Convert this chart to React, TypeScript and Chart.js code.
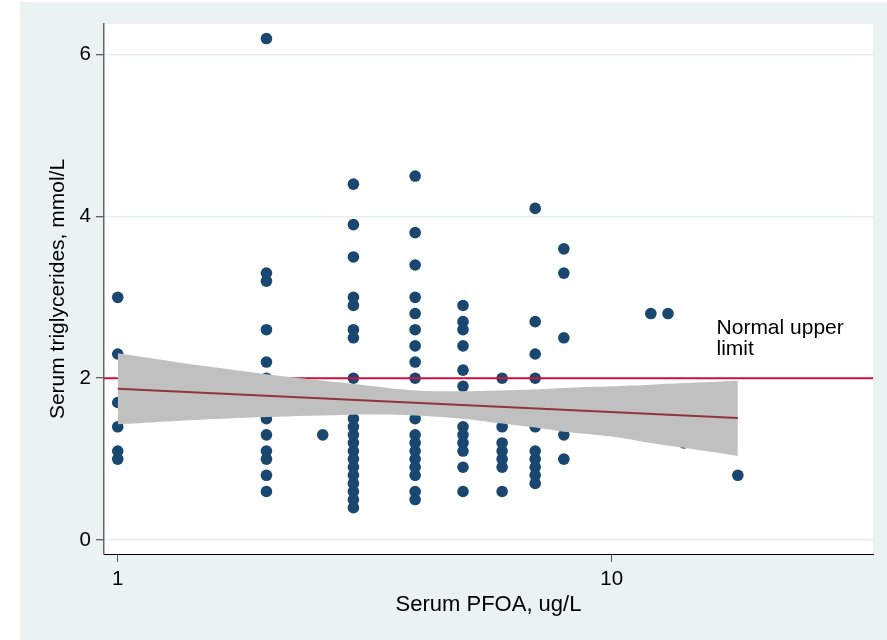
import React, { useEffect, useRef } from "react";
import { Chart, registerables } from "chart.js";

Chart.register(...registerables);

// ---- data ----
const pointX = [
  1, 1, 1, 1, 1, 1,
  2, 2, 2, 2, 2, 2, 2, 2, 2, 2, 2, 2,
  2.6,
  3, 3, 3, 3, 3, 3, 3, 3, 3, 3, 3, 3, 3, 3, 3, 3, 3, 3, 3, 3,
  4, 4, 4, 4, 4, 4, 4, 4, 4, 4, 4, 4, 4, 4, 4, 4, 4, 4,
  5, 5, 5, 5, 5, 5, 5, 5, 5, 5, 5, 5,
  6, 6, 6, 6, 6, 6, 6,
  7, 7, 7, 7, 7, 7, 7, 7, 7, 7,
  8, 8, 8, 8, 8, 8,
  12, 13, 14, 18,
];
const pointY = [
  3.0, 2.3, 1.7, 1.4, 1.1, 1.0,
  6.2, 3.3, 3.2, 2.6, 2.2, 2.0, 1.5, 1.3, 1.1, 1.0, 0.8, 0.6,
  1.3,
  4.4, 3.9, 3.5, 3.0, 2.9, 2.6, 2.5, 2.0, 1.5, 1.4, 1.3, 1.2, 1.1, 1.0, 0.9, 0.8, 0.7, 0.6, 0.5, 0.4,
  4.5, 3.8, 3.4, 3.0, 2.8, 2.6, 2.4, 2.2, 2.0, 1.5, 1.3, 1.2, 1.1, 1.0, 0.9, 0.8, 0.6, 0.5,
  2.9, 2.7, 2.6, 2.4, 2.1, 1.9, 1.4, 1.3, 1.2, 1.1, 0.9, 0.6,
  2.0, 1.4, 1.2, 1.1, 1.0, 0.9, 0.6,
  4.1, 2.7, 2.3, 2.0, 1.4, 1.1, 1.0, 0.9, 0.8, 0.7,
  3.6, 3.3, 2.5, 1.8, 1.3, 1.0,
  2.8, 2.8, 1.2, 0.8,
];

const bandX = [1, 1.5, 2, 3, 4, 5, 6, 7, 8, 10, 12, 14, 18];
const bandUpper = [2.31, 2.15, 2.05, 1.93, 1.85, 1.84, 1.85, 1.86, 1.88, 1.9, 1.92, 1.94, 1.97];
const bandLower = [1.43, 1.49, 1.52, 1.55, 1.54, 1.5, 1.44, 1.39, 1.34, 1.28, 1.2, 1.14, 1.04];

const fitX = [1, 18];
const fitY = [1.87, 1.51];

const limitY = 2;
const xTicks = [1, 10];
const yTicks = [0, 2, 4, 6];
const xRange = [0.938, 33.8];
const yRange = [-0.173, 6.38];

const labelLines = ["Normal upper", "limit"];
const labelX = 16.3;
const labelY = 2.49;

const xTitle = "Serum PFOA, ug/L";
const yTitle = "Serum triglycerides, mmol/L";

const FONT = '"Liberation Sans", Arial, Helvetica, sans-serif';

export default function App() {
  const ref = useRef<HTMLCanvasElement>(null);

  useEffect(() => {
    const canvas = ref.current;
    if (!canvas) return;

    const bgPlugin = {
      id: "bgPlugin",
      beforeDraw(chart: any) {
        const { ctx, width, height, chartArea } = chart;
        ctx.save();
        ctx.fillStyle = "#ffffff";
        ctx.fillRect(0, 0, width, height);
        ctx.fillStyle = "#EAF2F3";
        ctx.fillRect(20, 2, width - 20, height - 2);
        ctx.fillStyle = "#ffffff";
        ctx.fillRect(
          chartArea.left,
          chartArea.top,
          chartArea.right - chartArea.left,
          chartArea.bottom - chartArea.top
        );
        ctx.restore();
      },
    };

    const labelPlugin = {
      id: "labelPlugin",
      afterDatasetsDraw(chart: any) {
        const { ctx } = chart;
        const xs = chart.scales.x;
        const ys = chart.scales.y;
        const px = xs.getPixelForValue(labelX);
        const py = ys.getPixelForValue(labelY);
        ctx.save();
        ctx.font = `21px ${FONT}`;
        ctx.fillStyle = "#000000";
        ctx.textAlign = "left";
        ctx.textBaseline = "middle";
        const lh = 21.7;
        const start = py - ((labelLines.length - 1) * lh) / 2;
        labelLines.forEach((t, i) => ctx.fillText(t, px, start + i * lh));
        ctx.restore();
      },
    };

    const chart = new Chart(canvas, {
      type: "scatter",
      data: {
        datasets: [
          {
            type: "scatter",
            label: "points",
            data: pointX.map((x, i) => ({ x, y: pointY[i] })),
            pointRadius: 5.8,
            pointHoverRadius: 5.8,
            backgroundColor: "#1A476F",
            borderWidth: 0,
            order: 10,
          },
          {
            type: "line",
            label: "limit",
            data: [
              { x: xRange[0], y: limitY },
              { x: xRange[1], y: limitY },
            ],
            showLine: true,
            borderColor: "#D1103F",
            borderWidth: 2,
            pointRadius: 0,
            fill: false,
            order: 5,
          },
          {
            type: "line",
            label: "upper",
            data: bandX.map((x, i) => ({ x, y: bandUpper[i] })),
            showLine: true,
            borderColor: "rgba(0,0,0,0)",
            borderWidth: 0,
            pointRadius: 0,
            backgroundColor: "#C0C0C0",
            fill: "+1",
            tension: 0.3,
            order: 3,
          },
          {
            type: "line",
            label: "lower",
            data: bandX.map((x, i) => ({ x, y: bandLower[i] })),
            showLine: true,
            borderColor: "rgba(0,0,0,0)",
            borderWidth: 0,
            pointRadius: 0,
            fill: false,
            tension: 0.3,
            order: 4,
          },
          {
            type: "line",
            label: "fit",
            data: fitX.map((x, i) => ({ x, y: fitY[i] })),
            showLine: true,
            borderColor: "#90353B",
            borderWidth: 2,
            pointRadius: 0,
            fill: false,
            order: 0,
          },
        ],
      } as any,
      options: {
        animation: false,
        responsive: false,
        maintainAspectRatio: false,
        devicePixelRatio: 1,
        layout: { padding: { left: 0, right: 14, top: 24, bottom: 0 } },
        plugins: {
          legend: { display: false },
          tooltip: { enabled: false },
        },
        events: [],
        scales: {
          x: {
            type: "logarithmic",
            position: "bottom",
            min: xRange[0],
            max: xRange[1],
            afterBuildTicks: (s: any) => {
              s.ticks = xTicks.map((v) => ({ value: v }));
            },
            afterFit: (s: any) => {
              s.height = 86;
            },
            ticks: {
              autoSkip: false,
              maxRotation: 0,
              minRotation: 0,
              padding: 5,
              color: "#000000",
              font: { family: FONT, size: 20.5 },
              callback: (v: any) => String(v),
            },
            grid: {
              drawOnChartArea: false,
              drawTicks: true,
              tickLength: 8,
              tickColor: "#555555",
              tickWidth: 1,
            },
            border: { display: true, color: "#000000", width: 1 },
            title: {
              display: true,
              text: xTitle,
              color: "#000000",
              font: { family: FONT, size: 22 },
              padding: { top: 0, bottom: 22 },
            },
          },
          y: {
            type: "linear",
            position: "left",
            min: yRange[0],
            max: yRange[1],
            afterBuildTicks: (s: any) => {
              s.ticks = yTicks.map((v) => ({ value: v }));
            },
            afterFit: (s: any) => {
              s.width = 104;
            },
            ticks: {
              autoSkip: false,
              padding: 5,
              color: "#000000",
              font: { family: FONT, size: 20.5 },
              callback: (v: any) => String(v),
            },
            grid: {
              drawOnChartArea: true,
              color: "#E6EEF0",
              lineWidth: 1.5,
              drawTicks: true,
              tickLength: 8,
              tickColor: "#333333",
              tickWidth: 1,
            },
            border: { display: true, color: "#666666", width: 1.5 },
            title: {
              display: true,
              text: yTitle,
              color: "#000000",
              font: { family: FONT, size: 21 },
              padding: { top: 46, bottom: 0 },
            },
          },
        },
      } as any,
      plugins: [bgPlugin, labelPlugin],
    });

    return () => chart.destroy();
  }, []);

  return (
    <div style={{ position: "absolute", left: 0, top: 0, width: 887, height: 640 }}>
      <canvas ref={ref} width={887} height={640} style={{ display: "block" }} />
    </div>
  );
}
